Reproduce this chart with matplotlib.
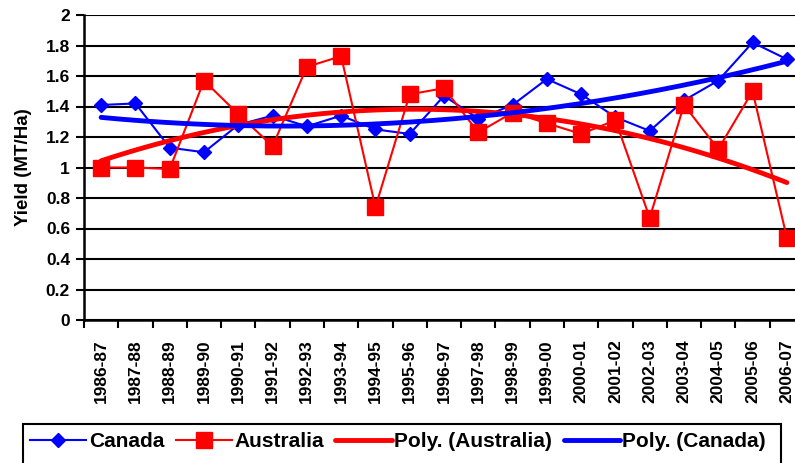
import numpy as np
import matplotlib
matplotlib.use("Agg")
import matplotlib.pyplot as plt
from matplotlib.patches import Rectangle

plt.rcParams['font.family'] = ['Liberation Sans', 'DejaVu Sans']
plt.rcParams['font.weight'] = 'bold'

# Data

seasons = ["1986-87", "1987-88", "1988-89", "1989-90", "1990-91", "1991-92",
           "1992-93", "1993-94", "1994-95", "1995-96", "1996-97", "1997-98",
           "1998-99", "1999-00", "2000-01", "2001-02", "2002-03", "2003-04",
           "2004-05", "2005-06", "2006-07"]
canada = [1.41, 1.42, 1.13, 1.10, 1.28, 1.34, 1.27, 1.34, 1.25, 1.22, 1.47,
          1.32, 1.41, 1.58, 1.48, 1.33, 1.24, 1.44, 1.57, 1.82, 1.71]
australia = [1.00, 1.00, 0.99, 1.57, 1.35, 1.14, 1.66, 1.73, 0.74, 1.48, 1.52,
             1.23, 1.36, 1.29, 1.22, 1.31, 0.67, 1.41, 1.12, 1.50, 0.54]
yticks = [0, 0.2, 0.4, 0.6, 0.8, 1, 1.2, 1.4, 1.6, 1.8, 2]
ytick_labels = ["0", "0.2", "0.4", "0.6", "0.8", "1", "1.2", "1.4", "1.6", "1.8", "2"]

# Plot

x = np.arange(len(seasons))
xs = np.linspace(0, len(seasons) - 1, 200)

# 2nd order trendlines like Excel's "Poly." trendline
fit_aus = np.polyval(np.polyfit(x, australia, 2), xs)
fit_can = np.polyval(np.polyfit(x, canada, 2), xs)

fig = plt.figure(figsize=(7.95, 4.63), dpi=100)
ax = fig.add_axes([84/795, 1 - 320/463, 720/795, 305/463])

l1, = ax.plot(x, canada, color='#0000FF', lw=1.5, marker='D', ms=7, zorder=3)
l2, = ax.plot(x, australia, color='#FF0000', lw=1.5, marker='s', ms=11, zorder=4)
l3, = ax.plot(xs, fit_aus, color='#FF0000', lw=3.5, solid_capstyle='round', zorder=5)
l4, = ax.plot(xs, fit_can, color='#0000FF', lw=3.5, solid_capstyle='round', zorder=6)

ax.set_xlim(-0.5, len(seasons) - 0.5)
ax.set_ylim(0, 2)
ax.set_yticks(yticks)
ax.set_yticklabels(ytick_labels, fontsize=12.5, fontweight='bold')
ax.set_xticks(x)
ax.set_xticklabels(seasons, rotation=90, fontsize=12.5, fontweight='bold')
ax.set_xticks(np.arange(-0.5, len(seasons)), minor=True)
ax.tick_params(axis='x', which='major', length=0, pad=14)
ax.tick_params(axis='x', which='minor', length=6, width=1.5, direction='out')
ax.tick_params(axis='y', length=6, width=1.5, direction='out', pad=4)

ax.set_axisbelow(True)
ax.yaxis.grid(True, color='black', lw=1.5)
for s in ['top', 'right']:
    ax.spines[s].set_visible(False)
for s in ['left', 'bottom']:
    ax.spines[s].set_linewidth(1.8)
    ax.spines[s].set_zorder(7)

ax.set_ylabel("Yield (MT/Ha)", fontsize=13.5, fontweight='bold', labelpad=10)

leg = fig.legend([l1, l2, l3, l4],
                 ["Canada", "Australia", "Poly. (Australia)", "Poly. (Canada)"],
                 loc='upper left', bbox_to_anchor=(30/795, 1 - 432/463),
                 ncol=4, frameon=False, handlelength=2.7,
                 handletextpad=0.12, columnspacing=0.55, borderpad=0,
                 borderaxespad=0, prop={'weight': 'bold', 'size': 15})

fig.patches.append(Rectangle((23/795, -0.05), (781 - 23)/795, 1 - 424/463 + 0.05,
                             transform=fig.transFigure, fill=False,
                             edgecolor='black', lw=1.5, clip_on=False))

fig.savefig('out.png', dpi=100)
